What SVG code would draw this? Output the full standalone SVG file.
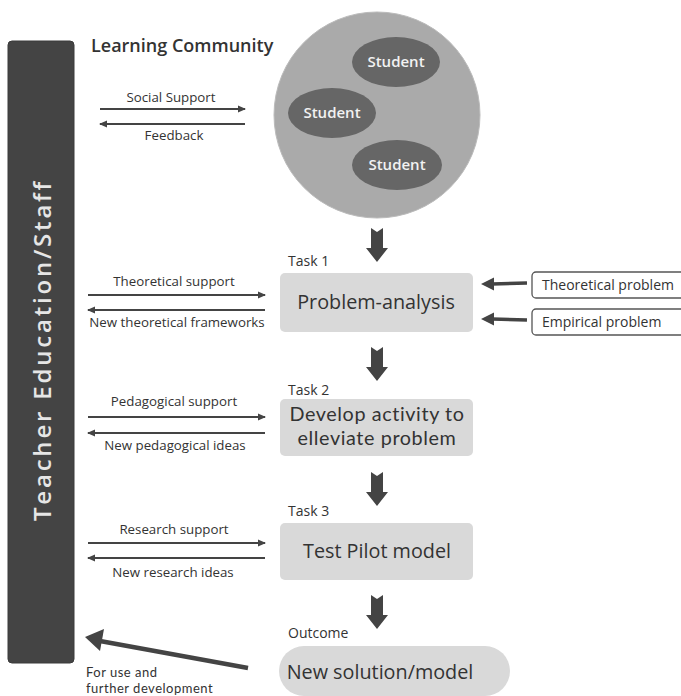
<svg xmlns="http://www.w3.org/2000/svg" width="681" height="696" viewBox="0 0 681 696">
  <style>
    text { font-family: "Open Sans", Lato, "Liberation Sans", sans-serif; fill: #333; }
    .small { font-size: 13.3px; }
    .task { font-size: 14px; }
    .box { fill: #d9d9d9; }
    .boxtext { font-size: 19.8px; text-anchor: middle; }
    .student { fill: #666; }
    .studenttext { font-size: 15px; font-weight: 600; fill: #f2f2f2; text-anchor: middle; }
    .flow { stroke: #444; stroke-width: 2; fill: none; }
    .thick { stroke: #444; stroke-width: 3.5; fill: none; }
    .block { fill: #444; }
    .src { fill: #fff; stroke: #555; stroke-width: 1.3; }
    .tight { font-family: Lato, "Open Sans", sans-serif; }
  </style>
  <defs>
    <marker id="tip" markerUnits="userSpaceOnUse" markerWidth="8" markerHeight="8" refX="7" refY="4" orient="auto">
      <path d="M0,0.5 L8,4 L0,7.5 Z" fill="#444"/>
    </marker>
    <!-- notched block arrow pointing down, origin at top centre -->
    <path id="down" d="M-6,0 L0,4 L6,0 L6,20 L11,20 L0,34 L-11,20 L-6,20 Z"/>
  </defs>

  <!-- staff column -->
  <g id="staff">
    <rect x="8" y="41" width="66" height="622" rx="4" fill="#444" stroke="#3a3a3a"/>
    <text transform="translate(51,350) rotate(-90)" font-size="24" font-weight="600" text-anchor="middle" style="fill:#e6e6e6" letter-spacing="2.8">Teacher Education/Staff</text>
  </g>

  <!-- learning community -->
  <g id="community">
    <text x="91" y="52" font-size="18" font-weight="600">Learning Community</text>
    <circle cx="377" cy="115" r="103" fill="#aaa" stroke="#bbb"/>
    <g id="student1">
      <ellipse class="student" cx="396" cy="62" rx="44" ry="25"/>
      <text class="studenttext" x="396" y="67">Student</text>
    </g>
    <g id="student2">
      <ellipse class="student" cx="332" cy="113" rx="44" ry="25"/>
      <text class="studenttext" x="332" y="118">Student</text>
    </g>
    <g id="student3">
      <ellipse class="student" cx="397" cy="165" rx="45" ry="25"/>
      <text class="studenttext" x="397" y="170">Student</text>
    </g>
  </g>

  <!-- task 1 -->
  <g id="task1">
    <text class="task" x="288" y="266">Task 1</text>
    <rect class="box" x="280" y="273" width="193" height="59" rx="5"/>
    <text class="boxtext" x="376" y="309">Problem-analysis</text>
  </g>

  <g id="theoretical-problem">
    <rect class="src" x="532" y="272" width="160" height="26" rx="4"/>
    <text x="542" y="290" font-size="14">Theoretical problem</text>
  </g>
  <g id="empirical-problem">
    <rect class="src" x="532" y="309" width="160" height="26" rx="4"/>
    <text x="542" y="327" font-size="14">Empirical problem</text>
  </g>

  <!-- task 2 -->
  <g id="task2">
    <text class="task" x="288" y="395">Task 2</text>
    <rect class="box" x="280" y="399" width="193" height="57" rx="5"/>
    <text class="boxtext tight" x="377" y="421" font-size="19" letter-spacing="0.6">Develop activity to</text>
    <text class="boxtext tight" x="377" y="444.5" font-size="19" letter-spacing="0.6">elleviate problem</text>
  </g>

  <!-- task 3 -->
  <g id="task3">
    <text class="task" x="288" y="516">Task 3</text>
    <rect class="box" x="280" y="523" width="193" height="57" rx="5"/>
    <text class="boxtext" x="377" y="558">Test Pilot model</text>
  </g>

  <!-- outcome -->
  <g id="outcome">
    <text class="task" x="288" y="638">Outcome</text>
    <rect class="box" x="279" y="646" width="231" height="50" rx="25"/>
    <text class="boxtext" x="380" y="679" font-size="20.5">New solution/model</text>
  </g>

  <!-- connectors -->
  <g id="connectors">
    <!-- community exchange -->
    <line class="flow" x1="100" y1="109" x2="245" y2="109" marker-end="url(#tip)"/>
    <line class="flow" x1="245" y1="124" x2="100" y2="124" marker-end="url(#tip)"/>
    <text class="small" x="171" y="102" text-anchor="middle">Social Support</text>
    <text class="small" x="174" y="140" text-anchor="middle">Feedback</text>

    <!-- task 1 exchange -->
    <line class="flow" x1="88" y1="295" x2="265" y2="295" marker-end="url(#tip)"/>
    <line class="flow" x1="265" y1="310" x2="88" y2="310" marker-end="url(#tip)"/>
    <text class="small" x="174" y="286" text-anchor="middle">Theoretical support</text>
    <text class="small" x="177" y="327" text-anchor="middle">New theoretical frameworks</text>

    <!-- task 2 exchange -->
    <line class="flow" x1="88" y1="417" x2="265" y2="417" marker-end="url(#tip)"/>
    <line class="flow" x1="265" y1="433" x2="88" y2="433" marker-end="url(#tip)"/>
    <text class="small" x="174" y="406" text-anchor="middle">Pedagogical support</text>
    <text class="small" x="175" y="450" text-anchor="middle">New pedagogical ideas</text>

    <!-- task 3 exchange -->
    <line class="flow" x1="88" y1="543" x2="265" y2="543" marker-end="url(#tip)"/>
    <line class="flow" x1="265" y1="558" x2="88" y2="558" marker-end="url(#tip)"/>
    <text class="small" x="174" y="534" text-anchor="middle">Research support</text>
    <text class="small" x="173" y="577" text-anchor="middle">New research ideas</text>

    <!-- problem sources -->
    <line class="thick" x1="527" y1="283" x2="492" y2="284"/>
    <path class="block" d="M481,284 L494,277.5 L494,290.5 Z"/>
    <line class="thick" x1="527" y1="320" x2="492" y2="319"/>
    <path class="block" d="M481,319 L494,312.5 L494,325.5 Z"/>

    <!-- main flow -->
    <use href="#down" class="block" x="377" y="228"/>
    <use href="#down" class="block" x="377" y="347"/>
    <use href="#down" class="block" x="377" y="472"/>
    <use href="#down" class="block" x="377" y="595"/>

    <!-- feedback to staff -->
    <line x1="248" y1="668" x2="100" y2="641" stroke="#444" stroke-width="4.5"/>
    <path class="block" d="M85,637 L104,629 L100,651 Z"/>
    <text class="tight" x="86" y="677" font-size="13" letter-spacing="0.5">For use and</text>
    <text class="tight" x="86" y="693" font-size="13" letter-spacing="0.5">further development</text>
  </g>
</svg>
